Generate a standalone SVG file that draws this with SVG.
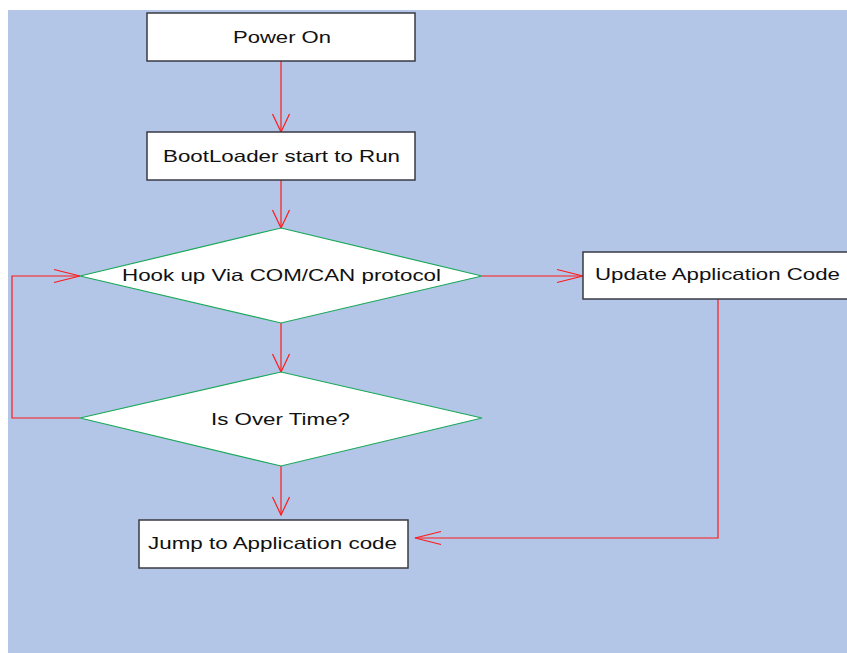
<svg xmlns="http://www.w3.org/2000/svg" width="847" height="653" viewBox="0 0 847 653">
  <style>
    .box { fill: #ffffff; stroke: #3a3a46; stroke-width: 1.5; }
    .decision { fill: #ffffff; stroke: #1aa85a; stroke-width: 1.2; }
    .label { font-family: "Liberation Sans", Arial, sans-serif; font-size: 16.5px; fill: #111111; text-anchor: middle; }
    .flow { fill: none; stroke: #ff1a1a; stroke-width: 1.2; }
  </style>
  <defs>
    <!-- open V heads: short/wide on vertical runs, long/narrow on horizontal runs -->
    <marker id="headV" markerUnits="userSpaceOnUse" markerWidth="20" markerHeight="20" viewBox="-19 -10 20 20" refX="0" refY="0" orient="auto">
      <path d="M-18,-8.5 L0,0 L-18,8.5" fill="none" stroke="#ff1a1a" stroke-width="1.2"/>
    </marker>
    <marker id="headH" markerUnits="userSpaceOnUse" markerWidth="28" markerHeight="16" viewBox="-27 -8 28 16" refX="0" refY="0" orient="auto">
      <path d="M-26,-6.5 L0,0 L-26,6.5" fill="none" stroke="#ff1a1a" stroke-width="1.2"/>
    </marker>
  </defs>

  <!-- canvas -->
  <rect x="8" y="10" width="839" height="643" fill="#b3c6e7"/>

  <!-- connectors -->
  <g id="connectors">
    <path class="flow" d="M281,61 L281,132" marker-end="url(#headV)"/>
    <path class="flow" d="M281,180 L281,228" marker-end="url(#headV)"/>
    <path class="flow" d="M281,323 L281,372" marker-end="url(#headV)"/>
    <path class="flow" d="M281,466 L281,515" marker-end="url(#headV)"/>
    <path class="flow" d="M482,276 L583,276" marker-end="url(#headH)"/>
    <path class="flow" d="M80,418 L12,418 L12,276 L80,276" marker-end="url(#headH)"/>
    <path class="flow" d="M718,299 L718,538 L415,538" marker-end="url(#headH)"/>
  </g>

  <g id="power-on">
    <rect class="box" x="147" y="13" width="268" height="48"/>
    <text class="label" x="282" y="43" textLength="98" lengthAdjust="spacingAndGlyphs">Power On</text>
  </g>

  <g id="bootloader-run">
    <rect class="box" x="147" y="132" width="268" height="48"/>
    <text class="label" x="281.5" y="162" textLength="237" lengthAdjust="spacingAndGlyphs">BootLoader start to Run</text>
  </g>

  <g id="hook-up">
    <polygon class="decision" points="281,228 482,276 281,323 80,276"/>
    <text class="label" x="281.5" y="281" textLength="319" lengthAdjust="spacingAndGlyphs">Hook up Via COM/CAN protocol</text>
  </g>

  <g id="over-time">
    <polygon class="decision" points="281,372 482,418 281,466 80,418"/>
    <text class="label" x="280.5" y="425" textLength="139" lengthAdjust="spacingAndGlyphs">Is Over Time?</text>
  </g>

  <g id="update-app">
    <rect class="box" x="583" y="252" width="280" height="47"/>
    <text class="label" x="717.5" y="280" textLength="245" lengthAdjust="spacingAndGlyphs">Update Application Code</text>
  </g>

  <g id="jump-app">
    <rect class="box" x="139" y="520" width="269" height="48"/>
    <text class="label" x="272.5" y="549" textLength="249" lengthAdjust="spacingAndGlyphs">Jump to Application code</text>
  </g>
</svg>
